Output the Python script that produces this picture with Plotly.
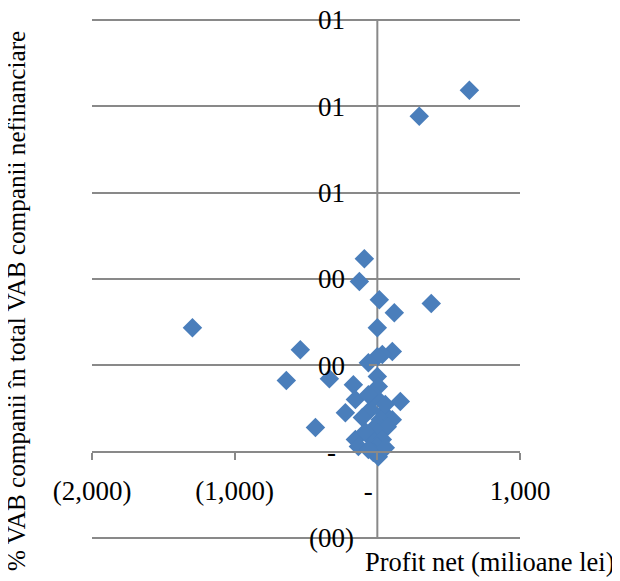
import plotly.graph_objects as go

# Profit net (milioane lei) and % VAB in total VAB companii nefinanciare
profit_net = [645, 294, -91, -126, 14, 378, 119, 0, -1296, -540, 105, 35, 0, -63,
              -638, -336, 0, -168, 7, -14, -154, 161, -49, -224, 42, 21, 105, -434,
              -14, 70, 0, -154, -35, 35, -133, 0, -28, 7, -63, 56, -105, -84, 56, -63]
vab_share = [0.837, 0.777, 0.447, 0.394, 0.352, 0.343, 0.322, 0.287, 0.287, 0.236,
             0.232, 0.225, 0.220, 0.206, 0.165, 0.169, 0.174, 0.155, 0.151, 0.127,
             0.121, 0.116, 0.097, 0.090, 0.090, 0.074, 0.074, 0.056, 0.058, 0.058,
             0.044, 0.028, 0.028, 0.028, 0.012, 0.012, -0.002, -0.012, 0.132, 0.109,
             0.079, 0.046, 0.009, 0.005]

x_tickvals = [-2000, -1000, 0, 1000]
x_ticktext = ["(2,000)", "(1,000)", "-<span style='color:rgba(0,0,0,0)'>))</span>", "1,000"]
y_tickvals = [-0.2, 0.0, 0.2, 0.4, 0.6, 0.8, 1.0]
pad = "<span style='color:rgba(0,0,0,0)'>)</span>"
y_ticktext = ["(00)", "-<span style='color:rgba(0,0,0,0)'>))</span>", "00" + pad, "00" + pad,
              "01" + pad, "01" + pad, "01" + pad]

FONT = "'Times New Roman', 'Liberation Serif', 'DejaVu Serif', serif"
GRID = "#898989"

fig = go.Figure()
fig.add_trace(go.Scatter(
    x=profit_net, y=vab_share, mode="markers",
    marker=dict(symbol="diamond", size=15, color="#4A7EBB", line=dict(width=0)),
    showlegend=False, hoverinfo="skip",
))

# plot area padded by 2px top and bottom so that edge grid lines are kept
fig.update_layout(
    template="none",
    width=612, height=573,
    margin=dict(l=84, r=100, t=10, b=41, pad=0, autoexpand=False),
    paper_bgcolor="white", plot_bgcolor="white",
    font=dict(family=FONT, size=27, color="black"),
    xaxis=dict(
        range=[-2000, 1000], domain=[0, 1],
        anchor="free", position=(0.2 + 0.00463) / 1.20926, automargin=False,
        showgrid=False, zeroline=False,
        showline=True, linecolor=GRID, linewidth=2,
        ticks="outside", ticklen=7, tickwidth=2, tickcolor=GRID,
        tickvals=x_tickvals, ticktext=x_ticktext,
        ticklabelstandoff=8, ticklabeloverflow="allow",
        tickfont=dict(family=FONT, size=27, color="black"),
    ),
    yaxis=dict(
        range=[-0.20463, 1.00463], domain=[0, 1],
        anchor="free", position=2/3, automargin=False,
        showgrid=True, gridcolor=GRID, gridwidth=2,
        zeroline=False,
        showline=False,
        ticks="outside", ticklen=8, tickwidth=2, tickcolor=GRID,
        tickvals=y_tickvals, ticktext=y_ticktext,
        ticklabelstandoff=10, ticklabeloverflow="allow",
        tickfont=dict(family=FONT, size=27, color="black"),
    ),
    shapes=[
        dict(type="line", xref="x", yref="y", x0=0, x1=0, y0=-0.2, y1=1.0,
             line=dict(color=GRID, width=2), layer="below"),
    ],
    annotations=[
        dict(text="% VAB companii în total VAB companii nefinanciare",
             xref="paper", yref="paper", x=-0.175, y=0.458,
             xanchor="center", yanchor="middle", textangle=-90, showarrow=False,
             font=dict(family=FONT, size=25.2, color="black")),
        dict(text="Profit net (milioane lei)",
             xref="paper", yref="paper", x=1.224, y=-0.042,
             xanchor="right", yanchor="middle", showarrow=False,
             font=dict(family=FONT, size=26.5, color="black")),
    ],
)

fig.write_html("out.html")
